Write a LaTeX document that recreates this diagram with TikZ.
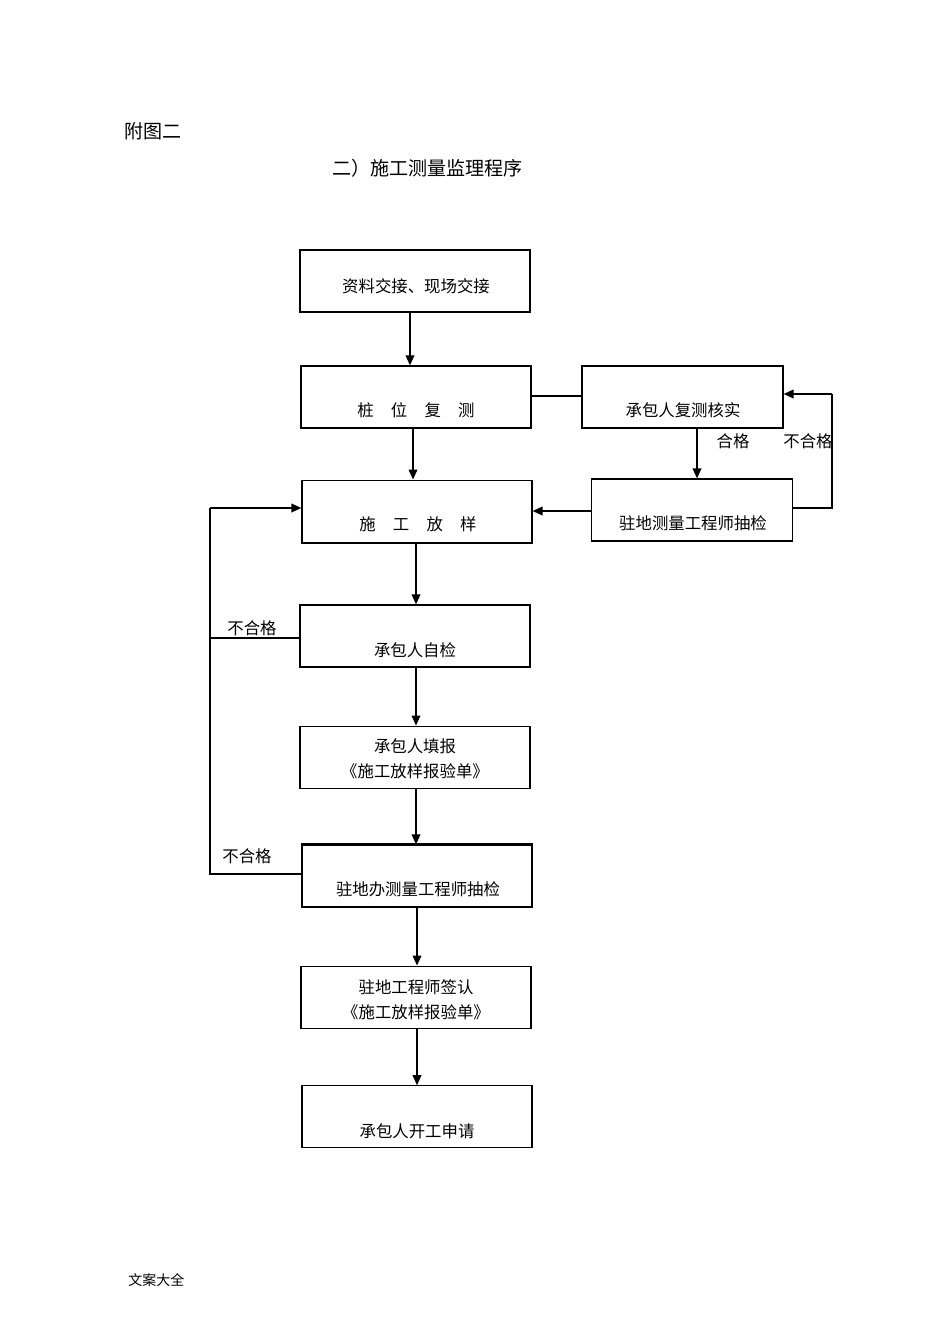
\documentclass[tikz,border=0pt]{standalone}
\usepackage{fontspec}
\setmainfont{Noto Sans CJK SC}
\usetikzlibrary{arrows.meta}
\begin{document}
\begin{tikzpicture}[x=0.75pt,y=-0.75pt,
  box/.style={draw, line width=0.9pt, minimum width=172.5pt, minimum height=46.5pt, inner sep=0pt},
  sbox/.style={box, minimum width=151pt},
  txt/.style={font=\fontsize{12.3}{19}\selectfont, inner sep=0pt, align=center},
  lab/.style={font=\fontsize{12.3}{14}\selectfont, inner sep=0pt},
  arr/.style={line width=1.1pt, -{Triangle[length=7.5pt,width=6.5pt]}},
  ln/.style={line width=0.9pt}]
\useasboundingbox (0,0) rectangle (950,1344);
% titles
\node[font=\fontsize{14.3}{16}\selectfont, anchor=west, inner sep=0pt] (h1) at (124,131) {附图二};
\node[font=\fontsize{14.3}{16}\selectfont, anchor=west, inner sep=0pt] (h2) at (332,168) {二）施工测量监理程序};
\node[font=\fontsize{10.5}{12}\selectfont, anchor=west, inner sep=0pt] (ft) at (128,1280) {文案大全};
% boxes
\node[box, line width=1.4pt] (b1) at (415,281) {};
\node[box] (b2) at (416,397) {};
\node[sbox, minimum width=150.75pt] (b3) at (682.5,397) {};
\node[box, minimum height=47pt] (b4) at (417,511.5) {};
\node[sbox] (b5) at (692,510) {};
\node[box] (b6) at (415,636) {};
\node[box, minimum height=47pt] (b7) at (415,757.5) {};
\node[box] (b8) at (417,876) {};
\node[box, minimum height=47pt] (b9) at (416,997.5) {};
\node[box, minimum height=46pt] (b10) at (417,1116.5) {};
% thicker edges
\draw[line width=1.4pt] (b4.south west) -- (b4.south east);
\draw[line width=1.4pt] (b8.north west) -- (b8.north east);
% texts
\node[txt] (t1) at (416,286) {资料交接、现场交接};
\node[txt] (t2) at (416,410) {桩\hspace{1.05em}位\hspace{1.05em}复\hspace{1.05em}测};
\node[txt] (t3) at (683,410) {承包人复测核实};
\node[txt] (t4) at (418,524) {施\hspace{1.05em}工\hspace{1.05em}放\hspace{1.05em}样};
\node[txt] (t5) at (693,523) {驻地测量工程师抽检};
\node[txt] (t6) at (415,650) {承包人自检};
\node[txt] (t7) at (415,758.5) {承包人填报\\《施工放样报验单》};
\node[txt] (t8) at (418,889) {驻地办测量工程师抽检};
\node[txt] (t9) at (416,999.5) {驻地工程师签认\\《施工放样报验单》};
\node[txt] (t10) at (417,1131) {承包人开工申请};
% labels
\node[lab] (l1) at (733,441) {合格};
\node[lab] (l2) at (808,441) {不合格};
\node[lab] (l3) at (252,628) {不合格};
\node[lab] (l4) at (247,856) {不合格};
% main arrows
\draw[arr] (b1.south -| 410,0) -- (b2.north -| 410,0);
\draw[arr] (b2.south -| 413,0) -- (b4.north -| 413,0);
\draw[arr] (b4.south -| 416,0) -- (b6.north -| 416,0);
\draw[arr] (b6.south -| 416,0) -- (b7.north -| 416,0);
\draw[arr] (b7.south -| 416,0) -- (b8.north -| 416,0);
\draw[arr] (b8.south -| 417,0) -- (b9.north -| 417,0);
\draw[arr] (b9.south -| 417,0) -- (b10.north -| 417,0);
% right side
\draw[ln] (b2.east |- 0,396) -- (b3.west |- 0,396);
\draw[arr] (b3.south -| 697,0) -- (b5.north -| 697,0);
\draw[arr] (b5.west |- 0,511) -- (b4.east |- 0,511);
\coordinate (R1) at (832,508);
\coordinate (R2) at (832,394);
\draw[ln] (b5.east |- R1) -- (R1) -- (R2);
\draw[arr] (R2) -- (b3.east |- R2);
% left loop
\coordinate (L1) at (210,508);
\coordinate (L2) at (210,638);
\coordinate (L3) at (210,874);
\draw[ln] (b6.west |- L2) -- (L2);
\draw[ln] (b8.west |- L3) -- (L3) -- (L1);
\draw[arr] (L1) -- (b4.west |- L1);
\end{tikzpicture}
\end{document}
